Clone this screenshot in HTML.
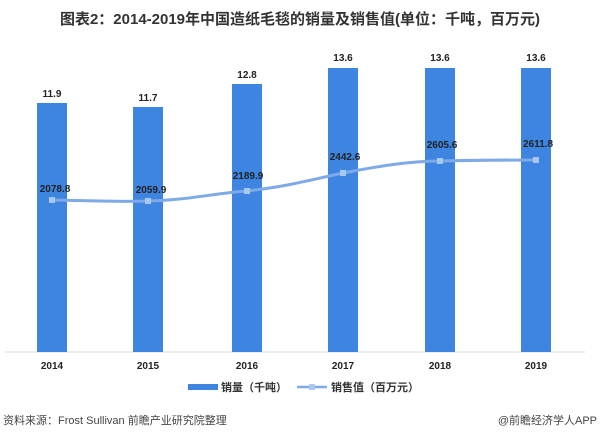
<!DOCTYPE html>
<html><head><meta charset="utf-8"><style>
body{margin:0;width:600px;height:434px;background:#fff;overflow:hidden}
svg text{font-family:"Liberation Sans","Noto Sans CJK SC",sans-serif}
</style></head><body>
<svg width="600" height="434" xmlns="http://www.w3.org/2000/svg">
<text x="300" y="24" text-anchor="middle" font-size="15" font-weight="bold" fill="#333">图表2：2014-2019年中国造纸毛毯的销量及销售值(单位：千吨，百万元)</text>
<line x1="5" y1="352" x2="585" y2="352" stroke="#d9d9d9"/>
<g fill="#3d85e0">
<rect x="37" y="103" width="30" height="249"/>
<rect x="133" y="107" width="30" height="245"/>
<rect x="232" y="84" width="30" height="268"/>
<rect x="328" y="68" width="30" height="284"/>
<rect x="425" y="68" width="30" height="284"/>
<rect x="521" y="68" width="30" height="284"/>
</g>
<g font-size="10" font-weight="bold" fill="#222" text-anchor="middle">
<text x="52" y="97">11.9</text><text x="148" y="101">11.7</text><text x="247" y="78">12.8</text>
<text x="343" y="61">13.6</text><text x="440" y="61">13.6</text><text x="536" y="61">13.6</text>
<text x="55" y="192">2078.8</text><text x="151" y="193">2059.9</text><text x="248" y="179">2189.9</text>
<text x="345" y="160">2442.6</text><text x="442" y="148">2605.6</text><text x="538" y="147">2611.8</text>
<text x="52" y="369">2014</text><text x="148" y="369">2015</text><text x="247" y="369">2016</text>
<text x="343" y="369">2017</text><text x="440" y="369">2018</text><text x="536" y="369">2019</text>
</g>
<path d="M52,200 C100,201 120,202 148,201 C190,200 215,193 247,191 C290,186 310,180 343,173 C380,166 410,161 440,161 C480,160 510,160 536,160" fill="none" stroke="#7eaae8" stroke-width="3"/>
<g fill="#a9c8f0">
<rect x="49" y="197" width="6" height="6"/><rect x="145" y="198" width="6" height="6"/><rect x="244" y="188" width="6" height="6"/>
<rect x="340" y="170" width="6" height="6"/><rect x="437" y="158" width="6" height="6"/><rect x="533" y="157" width="6" height="6"/>
</g>
<rect x="188" y="384" width="30" height="6" fill="#3d85e0"/>
<text x="221" y="391" font-size="11" font-weight="bold" fill="#333">销量（千吨）</text>
<line x1="297" y1="387" x2="327" y2="387" stroke="#7eaae8" stroke-width="2.5"/>
<rect x="309" y="384" width="6" height="6" fill="#a9c8f0"/>
<text x="331" y="391" font-size="11" font-weight="bold" fill="#333">销售值（百万元）</text>
<text x="3" y="424" font-size="11" fill="#444">资料来源：Frost Sullivan 前瞻产业研究院整理</text>
<text x="597" y="424" font-size="11" fill="#444" text-anchor="end">@前瞻经济学人APP</text>
</svg>
</body></html>
